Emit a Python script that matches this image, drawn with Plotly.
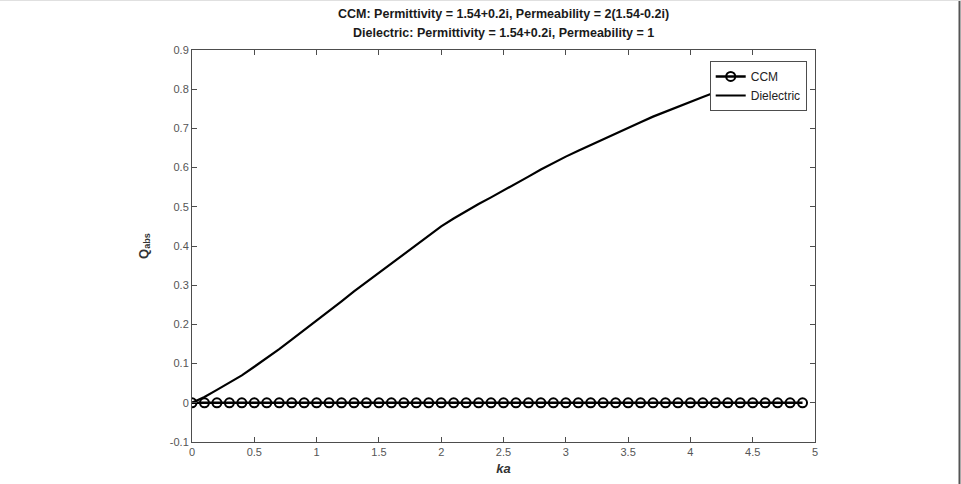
import plotly.graph_objects as go

ka = [round(0.1 * i, 1) for i in range(50)]
ccm_q = [0.0] * 50
diel_q = [0.0, 0.015, 0.033, 0.051, 0.070, 0.092, 0.114, 0.137, 0.161, 0.185,
          0.209, 0.234, 0.259, 0.284, 0.308, 0.332, 0.356, 0.380, 0.404, 0.427,
          0.450, 0.470, 0.489, 0.507, 0.524, 0.541, 0.559, 0.577, 0.595, 0.612,
          0.628, 0.643, 0.658, 0.673, 0.688, 0.702, 0.716, 0.730, 0.743, 0.756,
          0.768, 0.780, 0.792, 0.803, 0.813, 0.823, 0.832, 0.841, 0.849, 0.857]

x_ticks = [0, 0.5, 1, 1.5, 2, 2.5, 3, 3.5, 4, 4.5, 5]
x_labels = ["0", "0.5", "1", "1.5", "2", "2.5", "3", "3.5", "4", "4.5", "5"]
y_ticks = [-0.1, 0, 0.1, 0.2, 0.3, 0.4, 0.5, 0.6, 0.7, 0.8, 0.9]
y_labels = ["-0.1", "0", "0.1", "0.2", "0.3", "0.4", "0.5", "0.6", "0.7", "0.8", "0.9"]
title_lines = ["CCM: Permittivity = 1.54+0.2i, Permeability = 2(1.54-0.2i)",
               "Dielectric: Permittivity = 1.54+0.2i, Permeability = 1"]

FONT = "Liberation Sans, Arial, sans-serif"

fig = go.Figure()
fig.add_trace(go.Scatter(
    x=ka, y=ccm_q, name="CCM", mode="lines+markers",
    line=dict(color="black", width=2.5),
    marker=dict(symbol="circle-open", size=9, color="black", line=dict(width=2)),
))
fig.add_trace(go.Scatter(
    x=ka, y=diel_q, name="Dielectric", mode="lines",
    line=dict(color="black", width=2.2),
))

axis_common = dict(
    showline=True, linecolor="#4d4d4d", linewidth=1, mirror="ticks",
    ticks="inside", ticklen=5, tickcolor="#4d4d4d", showgrid=False,
    zeroline=False, tickfont=dict(family=FONT, size=11, color="#555555"),
)

fig.update_layout(
    width=961, height=484,
    margin=dict(l=192, r=146, t=50, b=42),
    paper_bgcolor="white", plot_bgcolor="white",
    xaxis=dict(range=[0, 5], tickvals=x_ticks, ticktext=x_labels,
               title=dict(text="<b><i>ka</i></b>", standoff=6,
                          font=dict(family=FONT, size=13, color="#333333")),
               **axis_common),
    yaxis=dict(range=[-0.1, 0.9], tickvals=y_ticks, ticktext=y_labels,
               title=dict(text="<b>Q<sub>abs</sub></b>", standoff=18,
                          font=dict(family=FONT, size=13, color="#333333")),
               **axis_common),
    legend=dict(
        x=0.831, y=0.972, xanchor="left", yanchor="top",
        bgcolor="white", bordercolor="#4d4d4d", borderwidth=1,
        font=dict(family=FONT, size=12, color="#222222"),
        tracegroupgap=0, itemwidth=30,
    ),
    showlegend=True,
)

for i, line in enumerate(title_lines):
    fig.add_annotation(
        text="<b>" + line + "</b>", xref="paper", yref="paper",
        x=0.5, y=(442 - (14 + 19 * i)) / 392, xanchor="center", yanchor="middle",
        showarrow=False, font=dict(family=FONT, size=12.5, color="#1a1a1a"),
    )

fig.add_shape(type="line", xref="paper", yref="paper",
              x0=(959.5 - 192) / 623, x1=(959.5 - 192) / 623,
              y0=-42 / 392, y1=1 + 50 / 392,
              line=dict(color="#555555", width=2))
fig.add_shape(type="line", xref="paper", yref="paper",
              x0=-192 / 623, x1=1 + 146 / 623,
              y0=1 + 49.5 / 392, y1=1 + 49.5 / 392,
              line=dict(color="#e0e0e0", width=1))

fig.write_html("out.html")
